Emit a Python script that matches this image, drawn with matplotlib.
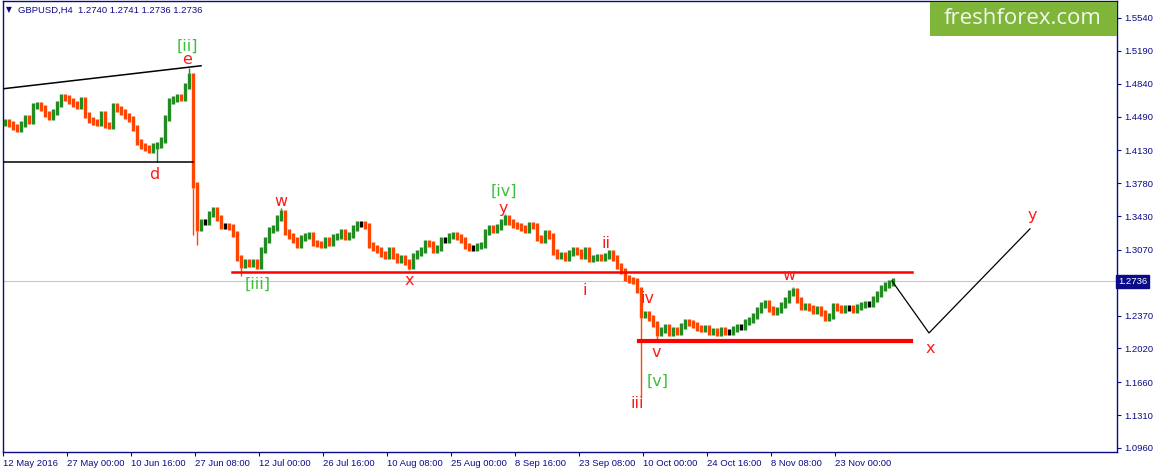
"""
GBPUSD H4 with wave count, redrawn from a terminal screenshot.
Each bar below stands for a group of four H4 candles.
"""
import matplotlib
matplotlib.use("Agg")
import matplotlib.pyplot as plt
from matplotlib.patches import Rectangle
from matplotlib.transforms import blended_transform_factory

# ---- data ----
first_open = 1.4420
closes = [
    1.4432, 1.4411, 1.4379, 1.4358, 1.4411, 1.4475, 1.4443, 1.4603, 1.4613, 1.4581,
    1.4518, 1.4486, 1.4539, 1.4624, 1.4699, 1.4688, 1.4656, 1.4624, 1.4603, 1.4667,
    1.4507, 1.4454, 1.4432, 1.4422, 1.4518, 1.4400, 1.4390, 1.4603, 1.4571, 1.4539,
    1.4496, 1.4464, 1.4368, 1.4219, 1.4177, 1.4156, 1.4134, 1.4177, 1.4188, 1.4241,
    1.4475, 1.4656, 1.4677, 1.4699, 1.4688, 1.4816, 1.4922, 1.3761, 1.3303, 1.3367,
    1.3367, 1.3452, 1.3495, 1.3410, 1.3325, 1.3325, 1.3314, 1.3239, 1.2983, 1.2909,
    1.2941, 1.2920, 1.2941, 1.2898, 1.3069, 1.3175, 1.3282, 1.3303, 1.3410, 1.3463,
    1.3261, 1.3218, 1.3175, 1.3122, 1.3197, 1.3218, 1.3229, 1.3143, 1.3133, 1.3122,
    1.3175, 1.3143, 1.3207, 1.3218, 1.3261, 1.3207, 1.3229, 1.3303, 1.3346, 1.3346,
    1.3325, 1.3122, 1.3090, 1.3069, 1.3026, 1.3005, 1.3069, 1.3005, 1.2962, 1.2983,
    1.2941, 1.2898, 1.3005, 1.3037, 1.3069, 1.3143, 1.3133, 1.3069, 1.3090, 1.3175,
    1.3175, 1.3218, 1.3229, 1.3207, 1.3175, 1.3111, 1.3090, 1.3090, 1.3111, 1.3122,
    1.3261, 1.3303, 1.3282, 1.3314, 1.3367, 1.3410, 1.3367, 1.3335, 1.3325, 1.3303,
    1.3282, 1.3335, 1.3325, 1.3197, 1.3175, 1.3250, 1.3218, 1.3047, 1.3005, 1.3015,
    1.2983, 1.3037, 1.3069, 1.3047, 1.3005, 1.3069, 1.2973, 1.2983, 1.2994, 1.2983,
    1.3005, 1.3037, 1.2983, 1.2898, 1.2845, 1.2771, 1.2749, 1.2739, 1.2643, 1.2377,
    1.2387, 1.2345, 1.2281, 1.2185, 1.2217, 1.2249, 1.2185, 1.2217, 1.2196, 1.2259,
    1.2302, 1.2291, 1.2270, 1.2238, 1.2228, 1.2238, 1.2196, 1.2206, 1.2185, 1.2217,
    1.2196, 1.2196, 1.2228, 1.2249, 1.2249, 1.2302, 1.2323, 1.2366, 1.2430, 1.2483,
    1.2504, 1.2440, 1.2408, 1.2430, 1.2483, 1.2536, 1.2611, 1.2632, 1.2536, 1.2462,
    1.2472, 1.2451, 1.2419, 1.2440, 1.2398, 1.2345, 1.2366, 1.2472, 1.2451, 1.2430,
    1.2451, 1.2451, 1.2430, 1.2462, 1.2483, 1.2494, 1.2494, 1.2547, 1.2601, 1.2665,
    1.2696, 1.2718, 1.2736,
]
# long wicks (bar index, extreme price)
wick_idx = [38, 46, 47, 48, 59, 69, 101, 125, 159, 163, 197]
wick_end = [1.4006, 1.5007, 1.3229, 1.3122, 1.2792, 1.3517, 1.2856, 1.3452,
            1.1493, 1.2100, 1.2675]

last_price = 1.2736
header = "GBPUSD,H4  1.2740 1.2741 1.2736 1.2736"

price_ticks = [1.5540, 1.5190, 1.4840, 1.4490, 1.4130, 1.3780, 1.3430,
               1.3070, 1.2370, 1.2020, 1.1660, 1.1310, 1.0960]
date_labels = ["12 May 2016", "27 May 00:00", "10 Jun 16:00", "27 Jun 08:00",
               "12 Jul 00:00", "26 Jul 16:00", "10 Aug 08:00", "25 Aug 00:00",
               "8 Sep 16:00", "23 Sep 08:00", "10 Oct 00:00", "24 Oct 16:00",
               "8 Nov 08:00", "23 Nov 00:00"]
date_pos = [16 * k - 0.5 for k in range(len(date_labels))]

# drawn lines: triangle, support/resistance, forecast path
tri_top_x, tri_top_y = [-0.5, 49.0], [1.4786, 1.5031]
tri_bot_x, tri_bot_y = [-0.5, 47.0], [1.4006, 1.4006]
res_x, res_y = [56.75, 226.75], [1.2835, 1.2835]
sup_x, sup_y = [158.5, 226.5], [1.2100, 1.2100]
proj_x, proj_y = [221.75, 231.0, 256.25], [1.2739, 1.2185, 1.3294]

# wave labels: text, bar position, price, green (degree) or red
waves = [
    ("[ii]", 45.5, 1.5242, "g"), ("e", 45.5, 1.5093, "r"),
    ("d", 37.25, 1.3878, "r"), ("w", 69.0, 1.3580, "r"),
    ("[iii]", 63.25, 1.2707, "g"), ("x", 101.0, 1.2739, "r"),
    ("[iv]", 124.75, 1.3698, "g"), ("y", 124.5, 1.3516, "r"),
    ("ii", 150.25, 1.3133, "r"), ("i", 145.0, 1.2632, "r"),
    ("iv", 160.75, 1.2547, "r"), ("v", 162.75, 1.1972, "r"),
    ("[v]", 163.25, 1.1674, "g"), ("iii", 158.0, 1.1429, "r"),
    ("w", 196.0, 1.2792, "r"), ("x", 231.25, 1.2015, "r"),
    ("y", 256.75, 1.3431, "r"),
]

# ---- figure ----
navy = "#0b0b8a"
up_col, dn_col = "#228b22", "#ff4500"
W, H = 1156, 471
fig = plt.figure(figsize=(W / 100, H / 100), dpi=100)
ax = fig.add_axes([3 / W, (H - 452) / H, (1117 - 3) / W, (452 - 1) / H])
ax.set_xlim(-0.5, 278)
ax.set_ylim(1.0917, 1.5721)

ax.axhline(last_price, color="#c8c8c8", lw=0.8, zorder=1)

# bars: open is the previous close, a small pad stands in for the wicks
xs, lo, hi, cols = [], [], [], []
prev = first_open
pad = 0.0032
for i, c in enumerate(closes):
    xs.append(i)
    lo.append(min(prev, c) - pad)
    hi.append(max(prev, c) + pad)
    cols.append(up_col if c > prev else (dn_col if c < prev else "k"))
    prev = c
ax.vlines(xs, lo, hi, colors=cols, linewidth=2.4, zorder=3)
for i, p in zip(wick_idx, wick_end):
    base = lo[i] if p < lo[i] else hi[i]
    ax.vlines(i, p, base, colors=cols[i], linewidth=1.0, zorder=3)

ax.plot(tri_top_x, tri_top_y, color="k", lw=1.1, zorder=4)
ax.plot(tri_bot_x, tri_bot_y, color="k", lw=1.1, zorder=4)
ax.plot(res_x, res_y, color="#ff0000", lw=1.8, zorder=4)
ax.plot(sup_x, sup_y, color="#ff0000", lw=3.0, zorder=4)
ax.plot(proj_x, proj_y, color="k", lw=0.9, zorder=4)

for txt, x, y, c in waves:
    ax.text(x, y, txt, color="#3cc03c" if c == "g" else "#ff1a1a",
            fontsize=11.5, ha="center", va="center", zorder=5)

# axes look of the terminal
for s in ax.spines.values():
    s.set_color(navy)
    s.set_linewidth(1.0)
ax.yaxis.tick_right()
ax.set_yticks(price_ticks, [f"{t:.4f}" for t in price_ticks])
ax.set_xticks(date_pos, date_labels)
for lbl in ax.get_xticklabels():
    lbl.set_ha("left")
ax.tick_params(axis="both", colors=navy, length=3, width=0.8, direction="out",
               labelsize=6.8, labelcolor=navy, pad=2)
for lbl in ax.get_xticklabels() + ax.get_yticklabels():
    lbl.set_family("Liberation Sans")

trans = blended_transform_factory(ax.transAxes, ax.transData)
ax.text(1.0012, last_price, "1.2736", transform=trans, color="white",
        fontsize=6.8, family="Liberation Sans", ha="left", va="center",
        bbox=dict(boxstyle="square,pad=0.2", fc=navy, ec=navy), zorder=6)

fig.text(6 / W, 1 - 10 / H, "\u25bc", color=navy, fontsize=5.5, va="center")
fig.text(18 / W, 1 - 10 / H, header, color=navy, fontsize=6.8,
         family="Liberation Sans", va="center")

# watermark box
fig.patches.append(Rectangle((930 / W, (H - 36) / H), 187 / W, 34 / H,
                             transform=fig.transFigure, fc="#7fb539", ec="none",
                             zorder=10))
fig.text(1023 / W, 1 - 19 / H, "freshforex.com", color="#f4f7ee", fontsize=16,
         family="Open Sans", ha="center", va="center", zorder=11)

fig.savefig("out.png", dpi=100)
